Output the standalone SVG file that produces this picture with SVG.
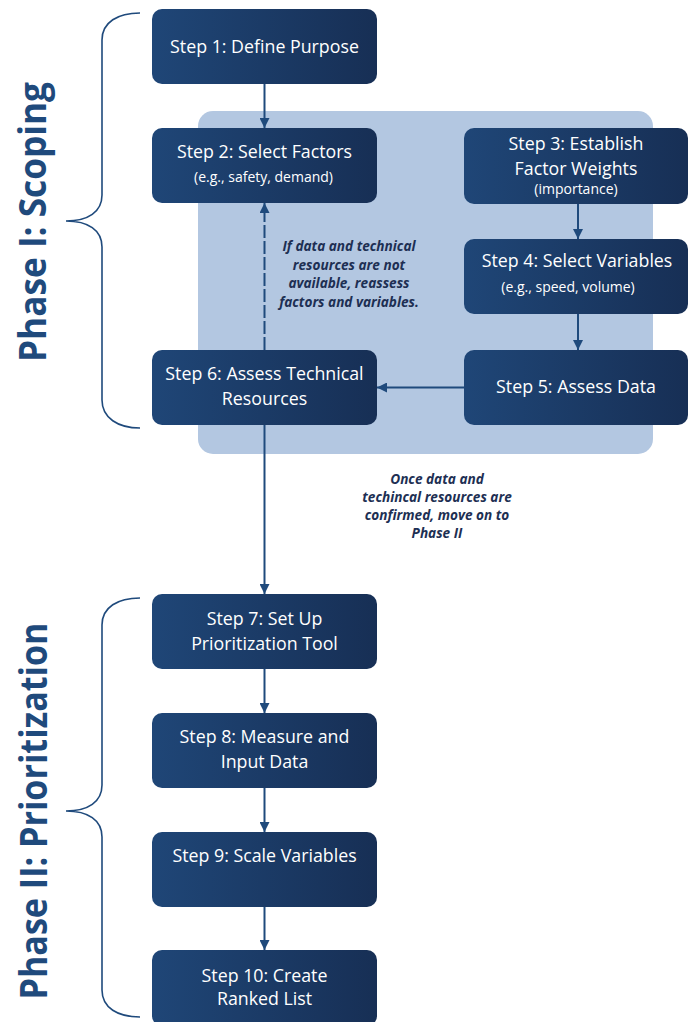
<svg xmlns="http://www.w3.org/2000/svg" width="691" height="1022" viewBox="0 0 691 1022">
<defs>
<linearGradient id="boxg" x1="0" y1="0" x2="1" y2="0">
<stop offset="0" stop-color="#1f4677"/>
<stop offset="1" stop-color="#172f55"/>
</linearGradient>
<marker id="ah" viewBox="0 0 10 10" refX="10" refY="5" markerWidth="10" markerHeight="10" markerUnits="userSpaceOnUse" orient="auto">
<path d="M0,0 L10,5 L0,10 z" fill="#1f4a7c"/>
</marker>
<style>
.box{fill:url(#boxg);}
.t{font-family:"Open Sans","Liberation Sans",sans-serif;font-size:17.8px;fill:#ffffff;text-anchor:middle;}
.s{font-family:"Open Sans","Liberation Sans",sans-serif;font-size:14px;fill:#ffffff;text-anchor:middle;}
.note{font-family:"Open Sans","Liberation Sans",sans-serif;font-size:13.6px;font-weight:bold;font-style:italic;fill:#1d2f53;text-anchor:middle;}
.phase{font-family:"Open Sans","Liberation Sans",sans-serif;font-size:37px;font-weight:bold;fill:#1f4a7c;text-anchor:middle;}
.brace{fill:none;stroke:#1f4a7c;stroke-width:1.6;}
.conn{fill:none;stroke:#1f4a7c;stroke-width:2;}
</style>
</defs>
<rect x="198" y="111" width="455" height="343" rx="15" fill="#b3c7e1"/>
<g id="phase1">
<path class="brace" d="M140,13 C118,13 102,22 102,40 L102,195 C102,212 88,221 66,221 C88,221 102,230 102,247 L102,400 C102,418 118,428 140,428"/>
<text class="phase" transform="translate(46,222) rotate(-90)" textLength="280" lengthAdjust="spacingAndGlyphs">Phase I: Scoping</text>
</g>
<g id="phase2">
<path class="brace" d="M140,598 C118,598 102,607 102,625 L102,785 C102,802 88,811 66,811 C88,811 102,820 102,837 L102,990 C102,1008 118,1017 140,1017"/>
<text class="phase" transform="translate(47,811) rotate(-90)" textLength="377" lengthAdjust="spacingAndGlyphs">Phase II: Prioritization</text>
</g>
<g id="connectors">
<line class="conn" x1="264.5" y1="84" x2="264.5" y2="128" marker-end="url(#ah)"/>
<line class="conn" x1="264.5" y1="350" x2="264.5" y2="203" stroke-dasharray="13,3" marker-end="url(#ah)"/>
<line class="conn" x1="578" y1="204" x2="578" y2="239" marker-end="url(#ah)"/>
<line class="conn" x1="578" y1="314" x2="578" y2="350" marker-end="url(#ah)"/>
<line class="conn" x1="464" y1="387.5" x2="377" y2="387.5" marker-end="url(#ah)"/>
<line class="conn" x1="264.5" y1="425" x2="264.5" y2="594" marker-end="url(#ah)"/>
<line class="conn" x1="264.5" y1="669" x2="264.5" y2="713" marker-end="url(#ah)"/>
<line class="conn" x1="264.5" y1="788" x2="264.5" y2="832" marker-end="url(#ah)"/>
<line class="conn" x1="264.5" y1="907" x2="264.5" y2="950" marker-end="url(#ah)"/>
</g>
<g id="note1">
<text class="note" x="349" y="251">If data and technical</text>
<text class="note" x="349" y="269.5">resources are not</text>
<text class="note" x="349" y="288">available, reassess</text>
<text class="note" x="349" y="306.5">factors and variables.</text>
</g>
<g id="note2">
<text class="note" x="437" y="484">Once data and</text>
<text class="note" x="437" y="502">techincal resources are</text>
<text class="note" x="437" y="520">confirmed, move on to</text>
<text class="note" x="437" y="538">Phase II</text>
</g>
<g id="step1">
<rect class="box" x="152" y="9" width="225" height="75" rx="10"/>
<text class="t" x="264.5" y="53">Step 1: Define Purpose</text>
</g>
<g id="step2">
<rect class="box" x="152" y="128" width="225" height="75" rx="10"/>
<text class="t" x="264.5" y="158">Step 2: Select Factors</text>
<text class="s" x="263.5" y="182">(e.g., safety, demand)</text>
</g>
<g id="step3">
<rect class="box" x="464" y="128" width="224" height="76" rx="10"/>
<text class="t" x="576" y="150">Step 3: Establish</text>
<text class="t" x="576" y="175">Factor Weights</text>
<text class="s" x="576" y="194">(importance)</text>
</g>
<g id="step4">
<rect class="box" x="464" y="239" width="224" height="75" rx="10"/>
<text class="t" x="577" y="267">Step 4: Select Variables</text>
<text class="s" x="568" y="292">(e.g., speed, volume)</text>
</g>
<g id="step5">
<rect class="box" x="464" y="350" width="224" height="75" rx="10"/>
<text class="t" x="576" y="393">Step 5: Assess Data</text>
</g>
<g id="step6">
<rect class="box" x="152" y="350" width="225" height="75" rx="10"/>
<text class="t" x="264.5" y="380">Step 6: Assess Technical</text>
<text class="t" x="264.5" y="405">Resources</text>
</g>
<g id="step7">
<rect class="box" x="152" y="594" width="225" height="75" rx="10"/>
<text class="t" x="264.5" y="625">Step 7: Set Up</text>
<text class="t" x="264.5" y="650">Prioritization Tool</text>
</g>
<g id="step8">
<rect class="box" x="152" y="713" width="225" height="75" rx="10"/>
<text class="t" x="264.5" y="743">Step 8: Measure and</text>
<text class="t" x="264.5" y="768">Input Data</text>
</g>
<g id="step9">
<rect class="box" x="152" y="832" width="225" height="75" rx="10"/>
<text class="t" x="264.5" y="862">Step 9: Scale Variables</text>
</g>
<g id="step10">
<rect class="box" x="152" y="950" width="225" height="76" rx="10"/>
<text class="t" x="264.5" y="982">Step 10: Create</text>
<text class="t" x="264.5" y="1005">Ranked List</text>
</g>
</svg>
